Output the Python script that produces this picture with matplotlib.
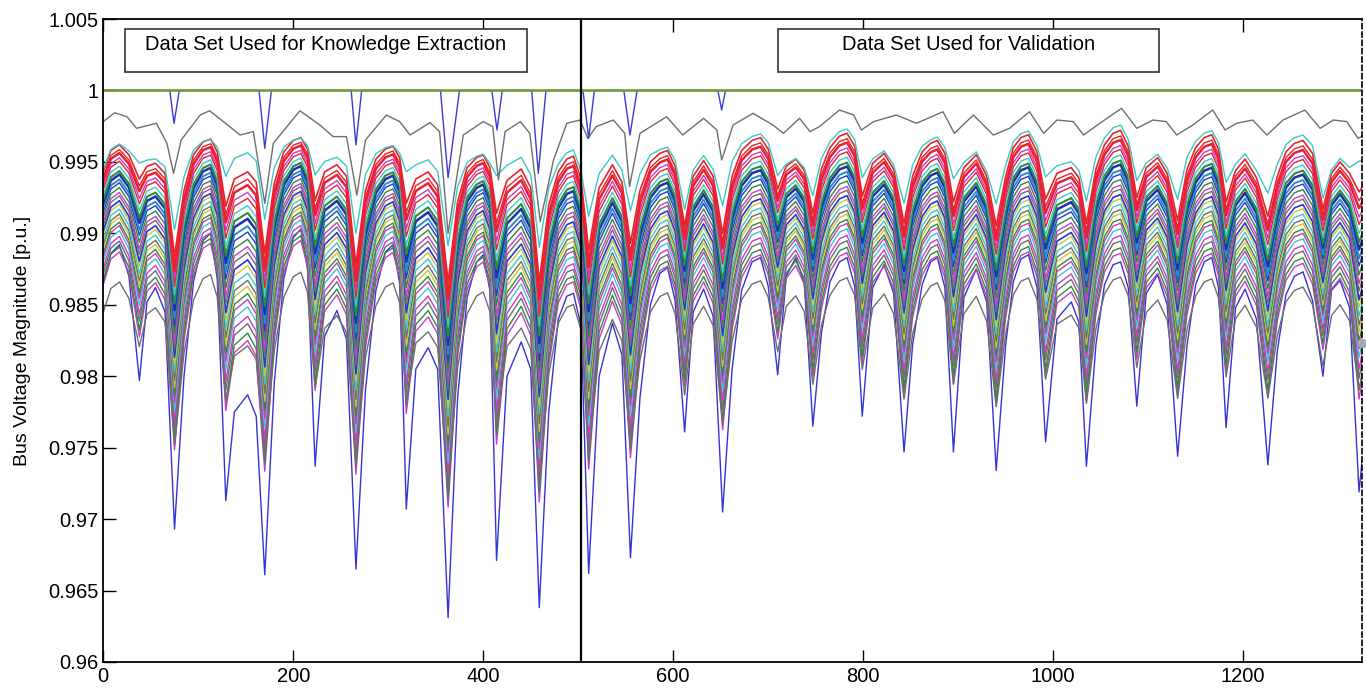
import numpy as np
import matplotlib
matplotlib.use('Agg')
import matplotlib.pyplot as plt
from matplotlib.patches import Rectangle
from matplotlib.ticker import FuncFormatter

plt.rcParams['font.family'] = ['Liberation Sans', 'DejaVu Sans']

# sample index of the read-off points (shared by the two envelope buses)
x_key = [0, 8, 17, 27, 38, 46, 55, 65, 75,
         85, 95, 105, 113, 120, 129, 138, 152, 161, 170,
         180, 190, 200, 208, 215, 223, 233, 246, 256, 266,
         276, 287, 297, 305, 312, 319, 329, 342, 352, 363,
         373, 383, 393, 400, 407, 414, 425, 440, 450, 459,
         469, 479, 488, 495, 503, 511, 522, 536, 546, 555,
         565, 576, 586, 594, 602, 612, 621, 632, 642, 652,
         662, 672, 683, 692, 700, 710, 719, 729, 738, 747,
         756, 765, 775, 783, 791, 799, 810, 822, 832, 843,
         852, 862, 871, 878, 886, 895, 906, 919, 930, 940,
         950, 958, 966, 974, 983, 992, 1004, 1019, 1027, 1035,
         1045, 1054, 1063, 1071, 1079, 1088, 1098, 1110, 1120, 1131,
         1141, 1150, 1159, 1167, 1174, 1182, 1192, 1202, 1214, 1226,
         1236, 1245, 1254, 1263, 1273, 1284, 1293, 1302, 1312, 1322, 1328]

# weakest bus (lowest blue curve)
low_bus = [0.9865, 0.9886, 0.9892, 0.9870, 0.9797, 0.9852, 0.9862, 0.9845, 0.9693,
           0.9800, 0.9866, 0.9895, 0.9900, 0.9868, 0.9713, 0.9775, 0.9787, 0.9772, 0.9661,
           0.9795, 0.9868, 0.9897, 0.9903, 0.9875, 0.9737, 0.9828, 0.9846, 0.9826, 0.9665,
           0.9790, 0.9860, 0.9887, 0.9892, 0.9865, 0.9707, 0.9805, 0.9820, 0.9805, 0.9631,
           0.9785, 0.9855, 0.9880, 0.9885, 0.9860, 0.9671, 0.9800, 0.9824, 0.9805, 0.9638,
           0.9775, 0.9840, 0.9856, 0.9858, 0.9835, 0.9662, 0.9800, 0.9837, 0.9815, 0.9673,
           0.9785, 0.9850, 0.9872, 0.9876, 0.9853, 0.9761, 0.9845, 0.9861, 0.9842, 0.9705,
           0.9805, 0.9860, 0.9880, 0.9883, 0.9863, 0.9801, 0.9870, 0.9883, 0.9865, 0.9765,
           0.9830, 0.9866, 0.9880, 0.9883, 0.9863, 0.9772, 0.9862, 0.9878, 0.9858, 0.9747,
           0.9822, 0.9864, 0.9880, 0.9883, 0.9862, 0.9747, 0.9855, 0.9875, 0.9852, 0.9734,
           0.9822, 0.9866, 0.9882, 0.9885, 0.9862, 0.9754, 0.9840, 0.9852, 0.9838, 0.9737,
           0.9822, 0.9864, 0.9878, 0.9880, 0.9862, 0.9779, 0.9858, 0.9871, 0.9850, 0.9744,
           0.9822, 0.9864, 0.9880, 0.9883, 0.9862, 0.9764, 0.9848, 0.9861, 0.9840, 0.9738,
           0.9818, 0.9857, 0.9870, 0.9873, 0.9853, 0.9800, 0.9860, 0.9867, 0.9848, 0.9719, 0.9760]

# strongest bus of the bundle (top red curve)
high_bus = [0.9943, 0.9958, 0.9962, 0.9955, 0.9938, 0.9947, 0.9949, 0.9942, 0.9884,
            0.9930, 0.9955, 0.9964, 0.9966, 0.9957, 0.9919, 0.9938, 0.9943, 0.9936, 0.9886,
            0.9935, 0.9957, 0.9965, 0.9967, 0.9959, 0.9923, 0.9943, 0.9948, 0.9940, 0.9878,
            0.9930, 0.9952, 0.9959, 0.9961, 0.9953, 0.9921, 0.9938, 0.9943, 0.9934, 0.9866,
            0.9922, 0.9946, 0.9953, 0.9955, 0.9946, 0.9914, 0.9937, 0.9945, 0.9932, 0.9866,
            0.9920, 0.9943, 0.9952, 0.9954, 0.9938, 0.9888, 0.9932, 0.9948, 0.9936, 0.9893,
            0.9930, 0.9950, 0.9956, 0.9958, 0.9947, 0.9905, 0.9940, 0.9951, 0.9940, 0.9900,
            0.9940, 0.9958, 0.9965, 0.9967, 0.9959, 0.9931, 0.9947, 0.9952, 0.9944, 0.9914,
            0.9945, 0.9960, 0.9968, 0.9970, 0.9961, 0.9926, 0.9949, 0.9956, 0.9945, 0.9907,
            0.9940, 0.9957, 0.9963, 0.9965, 0.9956, 0.9922, 0.9946, 0.9955, 0.9940, 0.9905,
            0.9940, 0.9960, 0.9967, 0.9969, 0.9957, 0.9924, 0.9942, 0.9946, 0.9939, 0.9907,
            0.9945, 0.9962, 0.9970, 0.9972, 0.9961, 0.9925, 0.9946, 0.9953, 0.9942, 0.9909,
            0.9945, 0.9960, 0.9967, 0.9969, 0.9959, 0.9922, 0.9944, 0.9952, 0.9939, 0.9912,
            0.9940, 0.9957, 0.9963, 0.9965, 0.9956, 0.9917, 0.9942, 0.9950, 0.9942, 0.9929, 0.9935]

# the other buses: share of the weak-bus swing and a level shift, read per curve
bus_weight = [1.00, 0.50, 0.48, 0.45, 0.43, 0.40, 0.38, 0.36, 0.34, 0.32, 0.30, 0.28,
              0.26, 0.24, 0.22, 0.20, 0.18, 0.16, 0.14, 0.12, 0.10, 0.08, 0.06, 0.04,
              0.02, 0.00, -0.15, 0.30]
bus_shift = [0.0, -0.0040, -0.0038, -0.0036, -0.0034, -0.0032, -0.0030, -0.0029,
             -0.0027, -0.0026, -0.0024, -0.0022, -0.0021, -0.0019, -0.0018, -0.0016,
             -0.0014, -0.0013, -0.0011, -0.0010, -0.0008, -0.0006, -0.0005, -0.0003,
             -0.0002, 0.0, -0.0010, -0.0075]
bus_color = ['#3434d6', '#c83cc8', '#2e8b3a', '#6e6e6e', '#c83cc8', '#3cc8c8', '#c83cc8',
             '#2e8b3a', '#c8c83a', '#6e6e6e', '#3cc8c8', '#c8c83a', '#2b35d0', '#6e6e6e',
             '#c83cc8', '#2e8b3a', '#2b35d0', '#2a8fc0', '#1f2fb8', '#2e8b3a', '#3cc8c8',
             '#e8232f', '#c83cc8', '#e8232f', '#e8232f', '#e8232f', '#3cc8c8', '#6e6e6e']
bus_width = [1.0, 1.0, 1.0, 1.0, 1.0, 1.0, 1.0, 1.0, 1.0, 1.0, 1.0, 1.0,
             1.2, 1.0, 1.0, 1.0, 1.0, 1.4, 1.8, 1.5, 1.0, 1.0, 1.0, 1.8,
             1.0, 1.2, 1.0, 1.0]

# gray bus near 0.998
top_gray_x = [0, 12, 25, 35, 56, 67, 74, 82, 102, 112, 133, 144, 158, 170, 179, 207, 228,
              242, 256, 267, 276, 298, 312, 323, 344, 354, 363, 379, 400, 410, 416, 423,
              439, 449, 460, 474, 488, 502, 510, 519, 537, 549, 554, 565, 593, 610, 632,
              646, 651, 663, 684, 705, 716, 733, 744, 754, 775, 790, 798, 811, 835, 856,
              884, 896, 916, 937, 954, 975, 990, 1004, 1021, 1032, 1049, 1072, 1088, 1105,
              1119, 1130, 1147, 1168, 1181, 1193, 1210, 1225, 1242, 1265, 1281, 1295,
              1309, 1321, 1328]
top_gray_v = [0.99782, 0.99844, 0.99816, 0.99735, 0.99770, 0.99630, 0.99420, 0.99653,
              0.99828, 0.99858, 0.99747, 0.99688, 0.99712, 0.99210, 0.99630, 0.99858,
              0.99758, 0.99677, 0.99677, 0.99268, 0.99653, 0.99828, 0.99782, 0.99688,
              0.99775, 0.99712, 0.99000, 0.99688, 0.99782, 0.99747, 0.99373, 0.99712,
              0.99782, 0.99700, 0.99082, 0.99513, 0.99770, 0.99793, 0.99665, 0.99747,
              0.99793, 0.99700, 0.99327, 0.99700, 0.99816, 0.99688, 0.99805, 0.99723,
              0.99513, 0.99758, 0.99840, 0.99758, 0.99700, 0.99805, 0.99712, 0.99747,
              0.99863, 0.99828, 0.99723, 0.99782, 0.99828, 0.99770, 0.99851, 0.99700,
              0.99828, 0.99688, 0.99735, 0.99851, 0.99700, 0.99793, 0.99782, 0.99688,
              0.99770, 0.99875, 0.99735, 0.99793, 0.99782, 0.99688, 0.99758, 0.99863,
              0.99723, 0.99770, 0.99793, 0.99688, 0.99793, 0.99863, 0.99735, 0.99793,
              0.99782, 0.99665, 0.99688]

# regulated bus: sits at 1.0 with short dips
reg_x = [0, 70, 74.5, 80, 164, 170, 177, 261, 266, 272, 355, 363, 375, 409, 414.5, 420,
         451, 458, 466, 505, 511, 517, 548, 554.5, 562, 647, 651, 655, 1328]
reg_v = [1, 1, 0.9977, 1, 1, 0.99595, 1, 1, 0.99618, 1, 1, 0.9939, 1, 1, 0.99723, 1,
         1, 0.9942, 1, 1, 0.99665, 1, 1, 0.99688, 1, 1, 0.99863, 1, 1]

slack_level = 1.0
split_x = 503
x_ticks = [0, 200, 400, 600, 800, 1000, 1200]
y_ticks = [0.96, 0.965, 0.97, 0.975, 0.98, 0.985, 0.99, 0.995, 1.0, 1.005]
marker_pt = (1325, 0.9823)

low = np.array(low_bus)
high = np.array(high_bus)

fig = plt.figure(figsize=(13.66, 6.91), dpi=100)
ax = fig.add_axes([0.0756, 0.042, 0.9214, 0.9305])

for w, s, c, lw in zip(bus_weight, bus_shift, bus_color, bus_width):
    ax.plot(x_key, high + w * (low - high) + s, color=c, lw=lw)

ax.plot(top_gray_x, top_gray_v, color='#6e6e6e', lw=1.0)
ax.plot(reg_x, reg_v, color='#3a3ad8', lw=1.0)
ax.axhline(slack_level, color='#6b9b2f', lw=1.8)
ax.axvline(split_x, color='black', lw=1.6)
ax.plot(*marker_pt, 'o', color='#a8a8b8', ms=6, clip_on=False, zorder=5)

# labels in boxes
for x0, x1, txt in [(0.0176, 0.3364, 'Data Set Used for Knowledge Extraction'),
                    (0.5363, 0.8390, 'Data Set Used for Validation')]:
    ax.add_patch(Rectangle((x0, 0.918), x1 - x0, 0.066, transform=ax.transAxes,
                           fill=True, facecolor='white', edgecolor='#333333', lw=1.2, zorder=6))
    ax.text((x0 + x1) / 2, 0.9596, txt, transform=ax.transAxes, ha='center', va='center',
            fontsize=14.5, zorder=7)

ax.set_xlim(0, 1325)
ax.set_ylim(0.96, 1.005)
ax.set_xticks(x_ticks)
ax.set_yticks(y_ticks)
ax.yaxis.set_major_formatter(FuncFormatter(lambda v, p: f'{v:g}'))
ax.tick_params(direction='in', length=9, width=1, top=True, right=False, labelsize=14.5)
ax.set_ylabel('Bus Voltage Magnitude [p.u.]', fontsize=14, labelpad=12)
for side in ['left', 'bottom', 'top']:
    ax.spines[side].set_linewidth(1.3)
ax.spines['right'].set_linestyle((0, (3, 2)))
ax.spines['right'].set_linewidth(1.2)

fig.savefig('out.png', dpi=100)
